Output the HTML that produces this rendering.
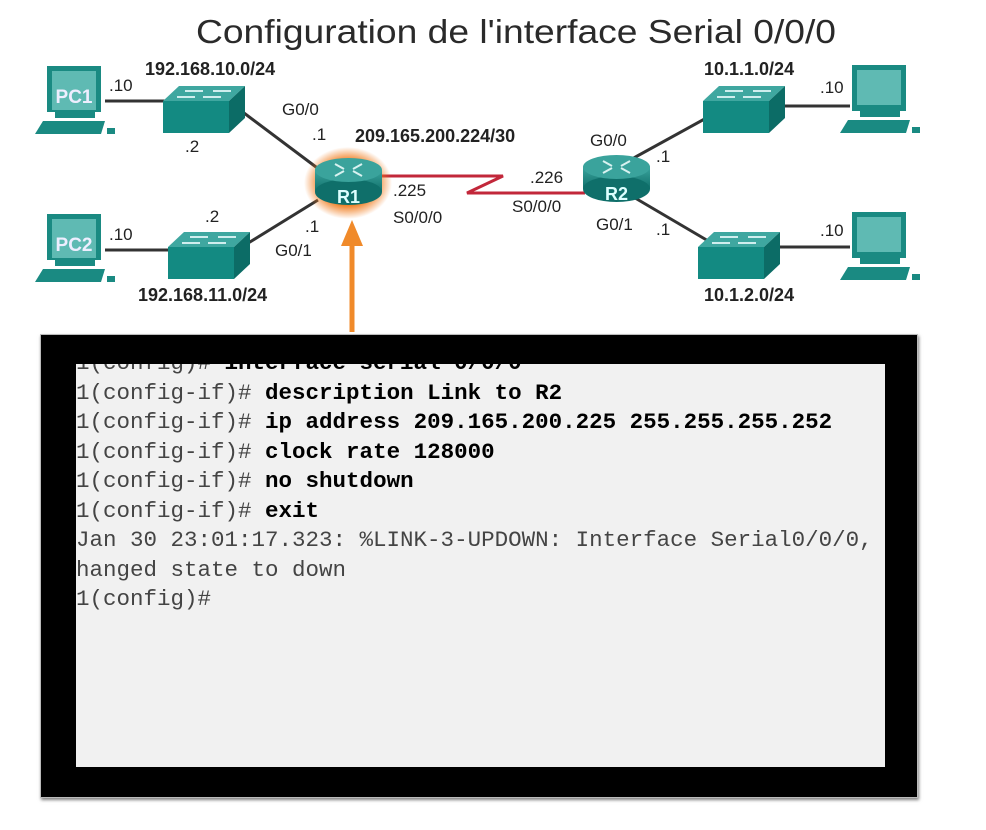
<!DOCTYPE html>
<html><head><meta charset="utf-8"><style>
html,body{margin:0;padding:0;background:#fff;}
body{width:986px;height:830px;position:relative;overflow:hidden;font-family:"Liberation Sans",sans-serif;}
svg{position:absolute;left:0;top:0;}
.box{position:absolute;left:40px;top:334px;width:878px;height:464px;background:#000;box-shadow:1px 2px 3px rgba(0,0,0,.5);border:1px solid #bbb;box-sizing:border-box;}
.scr{position:absolute;left:76px;top:364px;width:809px;height:403px;background:#f1f1f1;overflow:hidden;}
.scr pre{margin:0;position:absolute;left:-13.5px;top:-15px;font-family:"Liberation Mono",monospace;font-size:22.5px;line-height:29.5px;color:#444;}
.scr b{color:#000;}
</style></head><body>
<svg width="986" height="335" viewBox="0 0 986 335">
<defs>
<linearGradient id="rt" x1="0" y1="0" x2="0" y2="1"><stop offset="0" stop-color="#3aa39c"/><stop offset="1" stop-color="#0f6f6a"/></linearGradient>
<radialGradient id="glow"><stop offset="0.6" stop-color="#f07b1c"/><stop offset="1" stop-color="#f07b1c" stop-opacity="0"/></radialGradient>
<g id="pc"><rect x="12" y="0" width="54" height="46" fill="#1a8a82"/><rect x="17" y="5" width="44" height="35" fill="#5fbab3"/><rect x="20" y="46" width="40" height="6" fill="#1a8a82"/><polygon points="8,55 70,55 66,68 0,68" fill="#1a8a82"/><rect x="72" y="62" width="8" height="6" fill="#1a8a82"/></g>
<g id="sw"><polygon points="0,15 16,0 82,0 66,15" fill="#3fa7a0"/><rect x="0" y="15" width="66" height="32" fill="#138a82"/><polygon points="66,15 82,0 82,32 66,47" fill="#0c6c66"/><g stroke="#cfeeee" stroke-width="2"><line x1="22" y1="5" x2="40" y2="5"/><line x1="50" y1="5" x2="68" y2="5"/><line x1="14" y1="11" x2="32" y2="11"/><line x1="40" y1="11" x2="58" y2="11"/></g></g>
</defs>
<text x="196" y="43" textLength="640" lengthAdjust="spacingAndGlyphs" font-size="33" fill="#2a2a2a">Configuration de l'interface Serial 0/0/0</text>
<g stroke="#333" stroke-width="3">
<line x1="105" y1="101" x2="170" y2="101"/><line x1="105" y1="250" x2="170" y2="250"/>
<line x1="240" y1="110" x2="320" y2="170"/><line x1="245" y1="245" x2="318" y2="200"/>
<line x1="630" y1="160" x2="710" y2="116"/><line x1="630" y1="195" x2="710" y2="242"/>
<line x1="780" y1="106" x2="850" y2="106"/><line x1="775" y1="247" x2="850" y2="247"/>
</g>
<polyline points="380,176 503,176 467,193 585,193" fill="none" stroke="#c2273a" stroke-width="3"/>
<use href="#pc" x="35" y="66"/><use href="#pc" x="35" y="214"/>
<use href="#pc" x="840" y="65"/><use href="#pc" x="840" y="212"/>
<rect x="52" y="80" width="44" height="30" fill="#5fbab3"/><text x="74" y="103" text-anchor="middle" font-size="19" font-weight="bold" fill="#eef">PC1</text>
<rect x="52" y="228" width="44" height="30" fill="#5fbab3"/><text x="74" y="251" text-anchor="middle" font-size="19" font-weight="bold" fill="#eef">PC2</text>
<use href="#sw" x="163" y="86"/><use href="#sw" x="168" y="232"/>
<use href="#sw" x="703" y="86"/><use href="#sw" x="698" y="232"/>
<ellipse cx="348" cy="183" rx="44" ry="36" fill="url(#glow)"/>
<g><rect x="315" y="170" width="67" height="22" fill="url(#rt)"/><ellipse cx="348.5" cy="192" rx="33.5" ry="13" fill="#0f6f6a"/><ellipse cx="348.5" cy="170" rx="33.5" ry="12" fill="#3aa39c"/><g stroke="#d8f2f0" stroke-width="2"><line x1="335" y1="164" x2="344" y2="169"/><line x1="362" y1="164" x2="353" y2="169"/><line x1="335" y1="176" x2="344" y2="171"/><line x1="362" y1="176" x2="353" y2="171"/></g><text x="348.5" y="203" text-anchor="middle" font-size="18" font-weight="bold" fill="#dff">R1</text></g>
<g transform="translate(268,-3)"><rect x="315" y="170" width="67" height="22" fill="url(#rt)"/><ellipse cx="348.5" cy="192" rx="33.5" ry="13" fill="#0f6f6a"/><ellipse cx="348.5" cy="170" rx="33.5" ry="12" fill="#3aa39c"/><g stroke="#d8f2f0" stroke-width="2"><line x1="335" y1="164" x2="344" y2="169"/><line x1="362" y1="164" x2="353" y2="169"/><line x1="335" y1="176" x2="344" y2="171"/><line x1="362" y1="176" x2="353" y2="171"/></g><text x="348.5" y="203" text-anchor="middle" font-size="18" font-weight="bold" fill="#dff">R2</text></g>
<line x1="352" y1="332" x2="352" y2="240" stroke="#f08a2a" stroke-width="5"/>
<polygon points="352,220 341,246 363,246" fill="#f08a2a"/>
<g font-size="17" fill="#222">
<text x="145" y="75" font-weight="bold" font-size="18">192.168.10.0/24</text>
<text x="138" y="301" font-weight="bold" font-size="18">192.168.11.0/24</text>
<text x="355" y="142" font-weight="bold" font-size="18">209.165.200.224/30</text>
<text x="704" y="75" font-weight="bold" font-size="18">10.1.1.0/24</text>
<text x="704" y="301" font-weight="bold" font-size="18">10.1.2.0/24</text>
<text x="109" y="91">.10</text><text x="109" y="240">.10</text>
<text x="185" y="152">.2</text><text x="205" y="222">.2</text>
<text x="282" y="115">G0/0</text><text x="312" y="140">.1</text>
<text x="305" y="232">.1</text><text x="275" y="256">G0/1</text>
<text x="393" y="196">.225</text><text x="393" y="223">S0/0/0</text>
<text x="530" y="183">.226</text><text x="512" y="212">S0/0/0</text>
<text x="590" y="146">G0/0</text><text x="596" y="230">G0/1</text>
<text x="656" y="162">.1</text><text x="656" y="235">.1</text>
<text x="820" y="93">.10</text><text x="820" y="236">.10</text>
</g>
</svg>
<div class="box"></div>
<div class="scr"><pre>R1(config)# <b>interface serial 0/0/0</b>
R1(config-if)# <b>description Link to R2</b>
R1(config-if)# <b>ip address 209.165.200.225 255.255.255.252</b>
R1(config-if)# <b>clock rate 128000</b>
R1(config-if)# <b>no shutdown</b>
R1(config-if)# <b>exit</b>
 Jan 30 23:01:17.323: %LINK-3-UPDOWN: Interface Serial0/0/0,
changed state to down
R1(config)#</pre></div>
</body></html>
